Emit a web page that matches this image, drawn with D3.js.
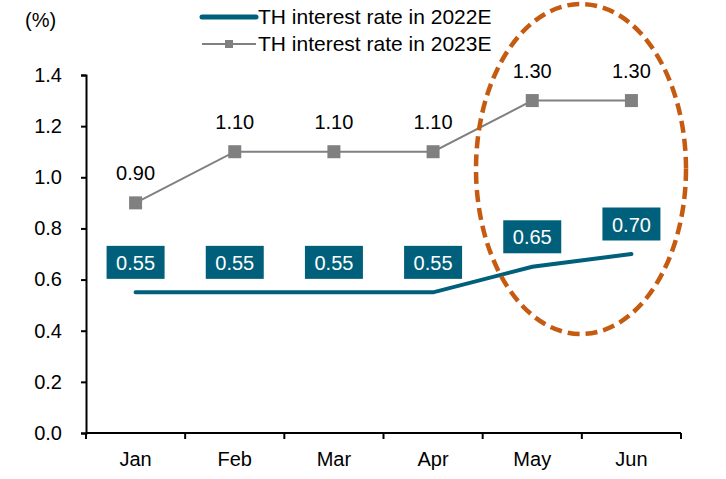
<!DOCTYPE html>
<html>
<head>
<meta charset="utf-8">
<script src="https://cdn.jsdelivr.net/npm/d3@7"></script>
<style>
  body { margin: 0; background: #fff; }
  text { font-family: "Liberation Sans", Arial, sans-serif; }
</style>
</head>
<body>
<svg id="chart" width="726" height="479"></svg>
<script>
// chart data
var months = ["Jan", "Feb", "Mar", "Apr", "May", "Jun"];
var rate2022 = [0.55, 0.55, 0.55, 0.55, 0.65, 0.70];
var rate2023 = [0.90, 1.10, 1.10, 1.10, 1.30, 1.30];
var yTicks = [0, 0.2, 0.4, 0.6, 0.8, 1.0, 1.2, 1.4];
var seriesNames = ["TH interest rate in 2022E", "TH interest rate in 2023E"];

var teal = "#005f7a", grey = "#808080", orange = "#c55a11";

var svg = d3.select("#chart");

var x = d3.scaleBand().domain(months).range([86, 681]);
var y = d3.scaleLinear().domain([0, 1.4]).range([433, 75]);
var cx = function(d, i) { return x(months[i]) + x.bandwidth() / 2; };

// y axis
var yAxis = svg.append("g")
    .attr("transform", "translate(86,0)")
    .call(d3.axisLeft(y).tickValues(yTicks).tickFormat(d3.format(".1f"))
        .tickSizeOuter(0).tickSize(5).tickPadding(19));
yAxis.selectAll("text").attr("font-size", 20).attr("fill", "#000").attr("font-family", "Liberation Sans, Arial");
yAxis.selectAll("line,path").attr("stroke", "#000").attr("stroke-width", 2);

// x axis, ticks on band edges
var xAxis = svg.append("g").attr("transform", "translate(0,433)");
xAxis.append("line").attr("x1", 86).attr("x2", 681).attr("stroke", "#000").attr("stroke-width", 2);
var edges = months.map(function(m) { return x(m); }).concat([x.range()[1]]);
xAxis.selectAll(".tk").data(edges).enter().append("line")
    .attr("x1", function(d) { return d; }).attr("x2", function(d) { return d; })
    .attr("y1", 0).attr("y2", 6).attr("stroke", "#000").attr("stroke-width", 2);
xAxis.selectAll(".lbl").data(months).enter().append("text")
    .attr("x", function(d) { return x(d) + x.bandwidth() / 2; })
    .attr("y", 33).attr("text-anchor", "middle").attr("font-size", 20).text(function(d) { return d; });

svg.append("text").attr("x", 25).attr("y", 27).attr("font-size", 20).text("(%)");

// 2023 line with square markers
var line = d3.line().x(cx).y(function(d) { return y(d); });
svg.append("path").datum(rate2023).attr("d", line)
    .attr("fill", "none").attr("stroke", grey).attr("stroke-width", 2);
svg.selectAll(".m23").data(rate2023).enter().append("rect")
    .attr("x", function(d, i) { return cx(d, i) - 6.5; })
    .attr("y", function(d) { return y(d) - 6.5; })
    .attr("width", 13).attr("height", 13).attr("fill", grey);
svg.selectAll(".l23").data(rate2023).enter().append("text")
    .attr("x", cx).attr("y", function(d) { return y(d) - 23; })
    .attr("text-anchor", "middle").attr("font-size", 20).text(d3.format(".2f"));

// 2022 line with boxed labels
svg.append("path").datum(rate2022).attr("d", line)
    .attr("fill", "none").attr("stroke", teal).attr("stroke-width", 4).attr("stroke-linecap", "round");
var boxes = svg.selectAll(".b22").data(rate2022).enter().append("g")
    .attr("transform", function(d, i) { return "translate(" + cx(d, i) + "," + (y(d) - 30) + ")"; });
boxes.append("rect").attr("x", -29).attr("y", -16.5).attr("width", 58).attr("height", 33).attr("fill", teal);
boxes.append("text").attr("y", 7.5).attr("text-anchor", "middle").attr("font-size", 20)
    .attr("fill", "#fff").text(d3.format(".2f"));

// highlight ellipse around May-Jun
svg.append("ellipse").attr("cx", 581).attr("cy", 169).attr("rx", 105).attr("ry", 165)
    .attr("fill", "none").attr("stroke", orange).attr("stroke-width", 4.5)
    .attr("stroke-dasharray", "12,6");

// legend
var leg = svg.append("g");
leg.append("line").attr("x1", 202).attr("x2", 256).attr("y1", 17).attr("y2", 17)
    .attr("stroke", teal).attr("stroke-width", 5).attr("stroke-linecap", "round");
leg.append("line").attr("x1", 202).attr("x2", 256).attr("y1", 44).attr("y2", 44)
    .attr("stroke", grey).attr("stroke-width", 2);
leg.append("rect").attr("x", 225).attr("y", 40).attr("width", 8).attr("height", 8).attr("fill", grey);
leg.selectAll(".lt").data(seriesNames).enter().append("text")
    .attr("x", 258).attr("y", function(d, i) { return 24 + i * 27; })
    .attr("font-size", 21).text(function(d) { return d; });
</script>
</body>
</html>
